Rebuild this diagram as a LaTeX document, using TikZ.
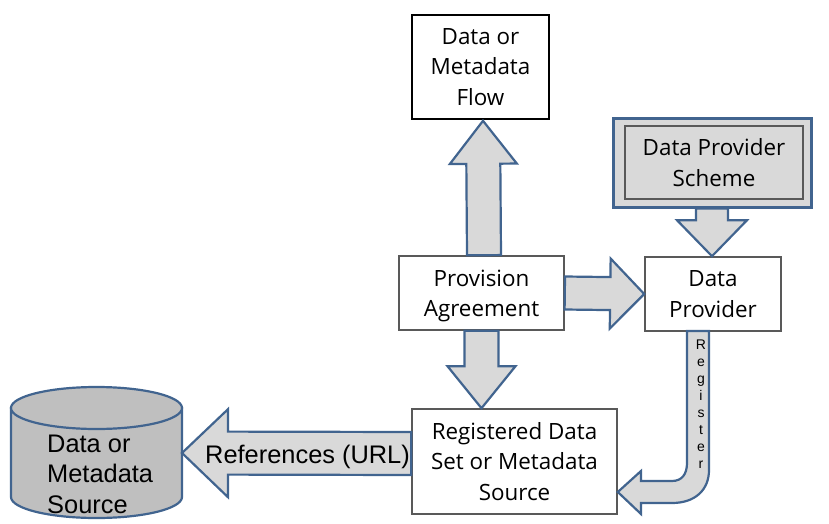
\documentclass[tikz,border=0pt]{standalone}
\usepackage{fontspec}
\setmainfont{Open Sans}
\newfontfamily\arialfont{Liberation Sans}
\usetikzlibrary{calc}
\definecolor{myblue}{HTML}{41648F}
\definecolor{myfill}{HTML}{D9D9D9}
\definecolor{mycyl}{HTML}{BFBFBF}
\definecolor{myedge}{HTML}{595959}
\tikzstyle{bigarrow}=[draw=myblue,fill=myfill,line width=2.2,line join=miter]
\tikzstyle{box}=[draw=myedge,fill=white,line width=1.6,inner sep=0,align=center,
                 font=\fontsize{22.4}{30.4}\selectfont,execute at begin node={\rule{0pt}{19pt}}]
\tikzstyle{arial}=[inner sep=0,font=\arialfont\fontsize{25.4}{30.5}\selectfont]
% from, to, half shaft, half head, head length
\def\bigarr#1#2#3#4#5{
  \coordinate (base) at ($#2!#5pt!#1$);
  \draw[bigarrow] ($#1!#3pt!-90:#2$) -- ($(base)!#3pt!-90:#2$) -- ($(base)!#4pt!-90:#2$)
    -- #2 -- ($(base)!#4pt!90:#2$) -- ($(base)!#3pt!90:#2$) -- ($#1!#3pt!90:#2$) -- cycle;
}
\begin{document}
\begin{tikzpicture}[x=1pt,y=-1pt]
  \useasboundingbox (0,0) rectangle (829,524);
  % boxes
  \node[box,draw=black,minimum width=137,minimum height=104] (flow) at (480.5,67) {Data or\\Metadata\\Flow};
  \node[box,draw=myblue,fill=myfill,line width=3,minimum width=198,minimum height=88] (schemeouter) at (712,163) {};
  \node[box,fill=myfill,minimum width=178,minimum height=73] (scheme) at (714,162.5) {Data Provider\\Scheme};
  \node[box,minimum width=165,minimum height=74] (agreement) at (481.5,293) {\rule{0pt}{22pt}Provision\\Agreement};
  \node[box,minimum width=136,minimum height=74] (provider) at (713,294) {Data\\Provider};
  \node[box,minimum width=205,minimum height=105] (registered) at (514.5,461.5) {Registered Data\\Set or Metadata\\Source};
  % source cylinder
  \draw[draw=myblue,fill=mycyl,line width=2.2] (11,408) -- (11,497)
    arc[start angle=180,end angle=0,x radius=85.5,y radius=21] -- (182,408) -- cycle;
  \draw[draw=myblue,fill=mycyl,line width=2.2] (96.5,408) ellipse[x radius=85.5,y radius=21];
  \coordinate (cyl) at (182,453);
  \node[arial,align=left,anchor=north west] (source) at (47,434.5) {Data or\\Metadata\\Source};
  % arrows
  \bigarr{([xshift=2.5]agreement.north)}{([xshift=2.5,yshift=-1]flow.south)}{17}{33.5}{43}
  \bigarr{(agreement.east)}{(provider.west)}{16.5}{35}{34}
  \bigarr{(agreement.south)}{(agreement.south|-registered.north)}{17}{34}{42}
  \bigarr{(schemeouter.south)}{(schemeouter.south|-provider.north)}{16}{35}{36}
  \bigarr{([yshift=8]registered.west)}{(cyl)}{21.5}{44}{46}
  \draw[bigarrow] (687,331) -- (687,463) .. controls (687,474) and (682,481) .. (672,481) -- (641,481)
    -- (641,471) -- ([yshift=-30.5]registered.east) -- (641,514) -- (641,503) -- (672,503)
    .. controls (695,503) and (709,490) .. (709,470) -- (709,331) -- cycle;
  % arrow labels
  \node[arial,anchor=west] (references) at (205,457) {References (URL)};
  \node[inner sep=0,align=center,font=\arialfont\fontsize{14}{17}\selectfont] (register) at (701,404) {R\\e\\g\\i\\s\\t\\e\\r};
\end{tikzpicture}
\end{document}
